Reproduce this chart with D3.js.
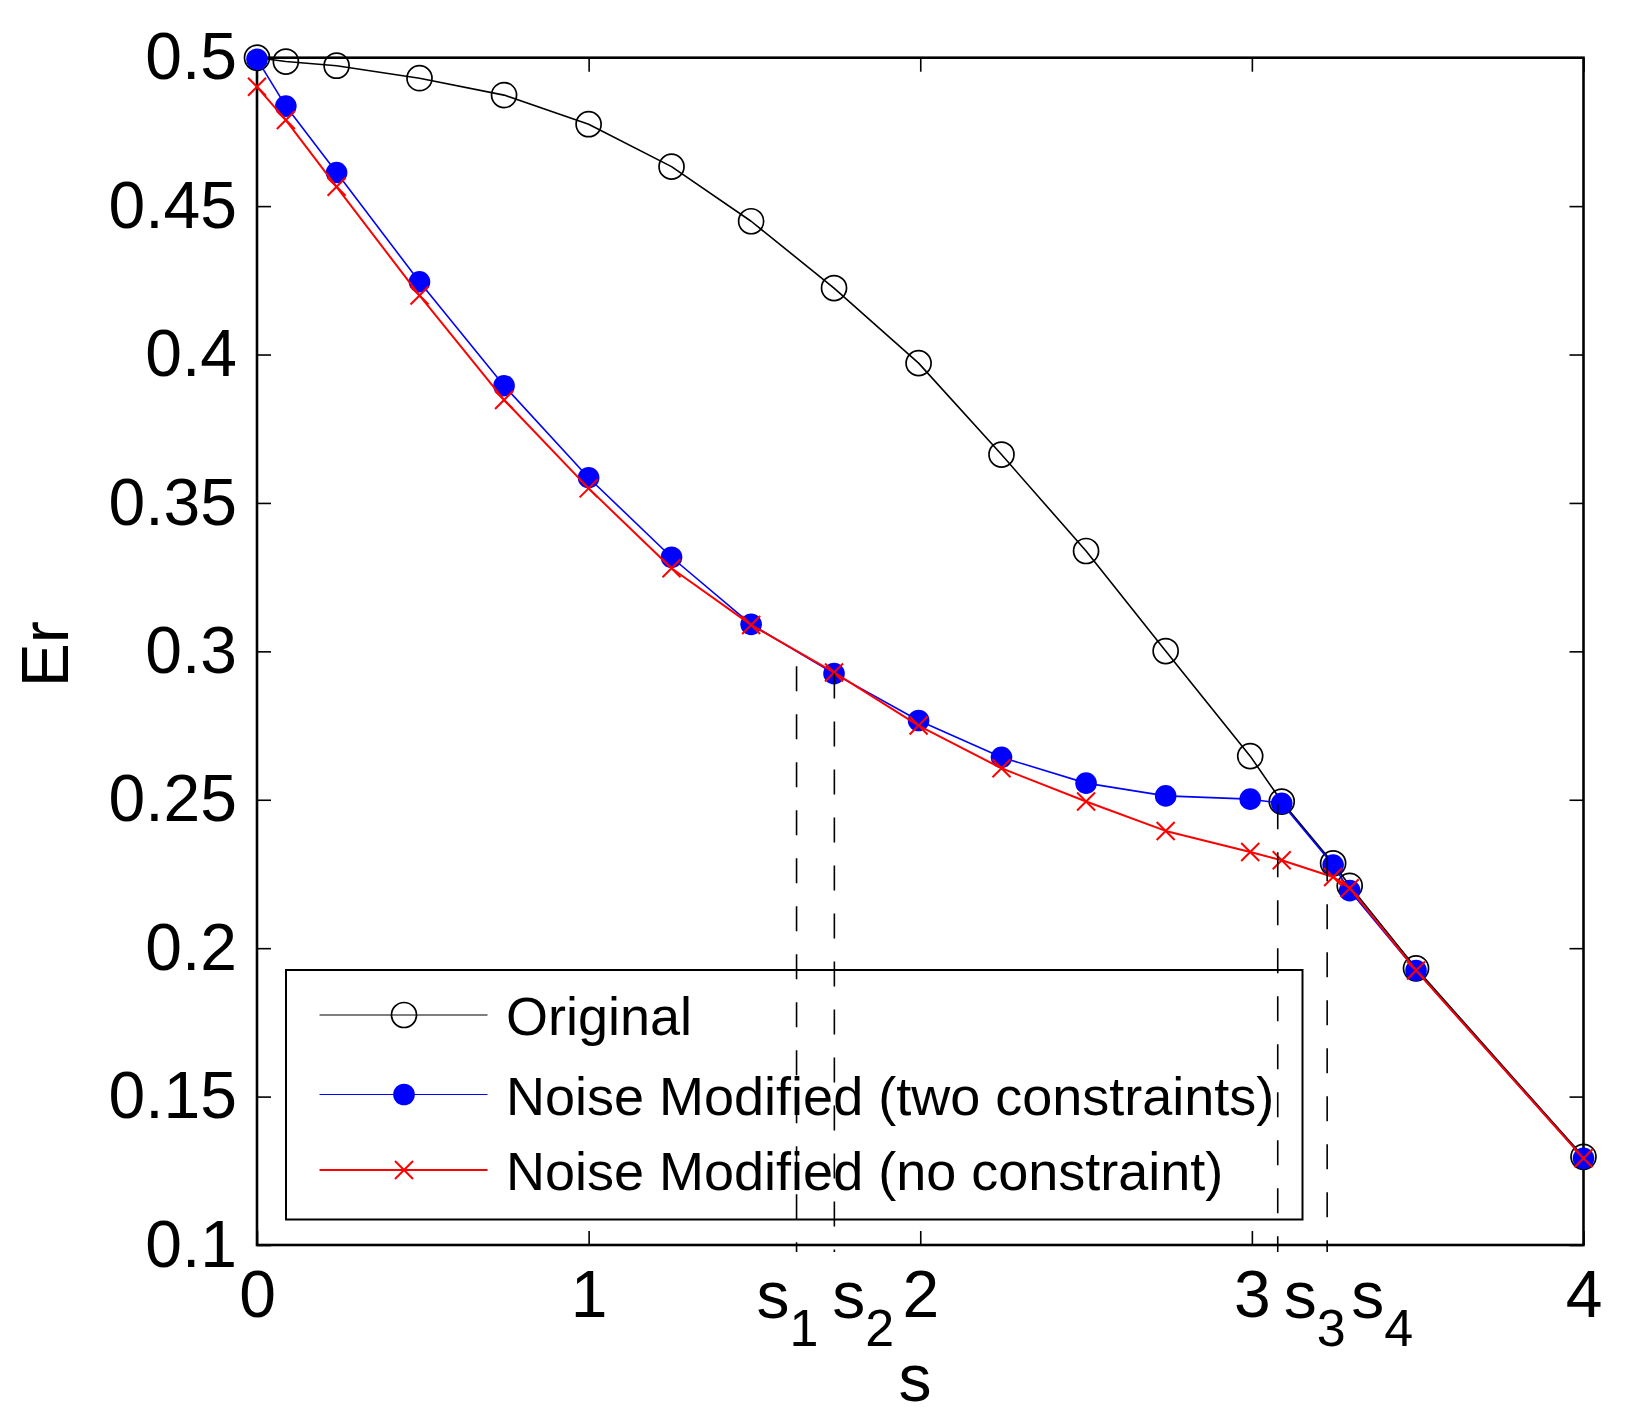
<!DOCTYPE html>
<html>
<head>
<meta charset="utf-8">
<script src="https://cdn.jsdelivr.net/npm/d3@7"></script>
<style>
  html, body { margin: 0; padding: 0; background: #fff; }
  svg { display: block; font-family: "Liberation Sans", Arial, sans-serif; }
</style>
</head>
<body>
<svg id="chart" width="1629" height="1416"></svg>
<script>
// ---------------- data ----------------
const sValues = [0, 0.087, 0.24, 0.49, 0.745, 1.0, 1.25, 1.49, 1.74, 1.995, 2.245, 2.5, 2.74, 2.995, 3.09, 3.245, 3.295, 3.495, 4.0];
const original = [0.5, 0.4987, 0.4973, 0.4931, 0.4874, 0.4776, 0.4633, 0.4449, 0.4224, 0.3971, 0.3663, 0.3338, 0.3001, 0.2647, 0.2494, 0.2286, 0.2210, 0.1932, 0.1297];
const twoConstraints = [0.4995, 0.4837, 0.4613, 0.4245, 0.3895, 0.3585, 0.3317, 0.3091, 0.2925, 0.2767, 0.2643, 0.2556, 0.2513, 0.2502, 0.2488, 0.2280, 0.2194, 0.1925, 0.1292];
const noConstraint = [0.4902, 0.4790, 0.4565, 0.4199, 0.3847, 0.3549, 0.3280, 0.3089, 0.2929, 0.2750, 0.2606, 0.2494, 0.2395, 0.2324, 0.2296, 0.2240, 0.2202, 0.1925, 0.1292];
const seriesNames = ["Original", "Noise Modified (two constraints)", "Noise Modified (no constraint)"];
const xTicks = [0, 1, 2, 3, 4];
const xTickLabels = ["0", "1", "2", "3", "4"];
const yTicks = [0.1, 0.15, 0.2, 0.25, 0.3, 0.35, 0.4, 0.45, 0.5];
const yTickLabels = ["0.1", "0.15", "0.2", "0.25", "0.3", "0.35", "0.4", "0.45", "0.5"];
const markS = [1.627, 1.741, 3.078, 3.227];
const markTop = [0.295, 0.2925, 0.2485, 0.231];
const markSubs = ["1", "2", "3", "4"];
const xLabel = "s";
const yLabel = "Er";

// ---------------- layout ----------------
const L = 257, R = 1583.5, T = 57.7, B = 1245;
const markLabelOffset = [-40, -2, 6, 24];   // px offsets of s_i labels from their lines
const svg = d3.select("#chart");
const x = d3.scaleLinear().domain([0, 4]).range([L, R]);
const y = d3.scaleLinear().domain([0.1, 0.5]).range([B, T]);
const FONT = 66;

// axes (ticks inside, all four sides)
const tickLen = 14;
const fmtX = d => xTickLabels[xTicks.indexOf(d)];
const fmtY = d => yTickLabels[yTicks.indexOf(d)];

const gB = svg.append("g").attr("transform", `translate(0,${B})`)
  .call(d3.axisBottom(x).tickValues(xTicks).tickFormat(fmtX).tickSizeInner(-tickLen).tickSizeOuter(0).tickPadding(25));
const gT = svg.append("g").attr("transform", `translate(0,${T})`)
  .call(d3.axisTop(x).tickValues(xTicks).tickFormat("").tickSizeInner(-tickLen).tickSizeOuter(0));
const gL = svg.append("g").attr("transform", `translate(${L},0)`)
  .call(d3.axisLeft(y).tickValues(yTicks).tickFormat(fmtY).tickSizeInner(-tickLen).tickSizeOuter(0).tickPadding(20));
const gR = svg.append("g").attr("transform", `translate(${R},0)`)
  .call(d3.axisRight(y).tickValues(yTicks).tickFormat("").tickSizeInner(-tickLen).tickSizeOuter(0));
[gB, gT, gL, gR].forEach(g => {
  g.select(".domain").remove();
  g.selectAll(".tick line").attr("stroke", "#000").attr("stroke-width", 1.6);
  g.selectAll("text").attr("fill", "#000").style("font-size", FONT + "px")
    .style("font-family", '"Liberation Sans", Arial, sans-serif');
});

// axes box
svg.append("rect").attr("x", L).attr("y", T).attr("width", R - L).attr("height", B - T)
  .attr("fill", "none").attr("stroke", "#000").attr("stroke-width", 2.6);

// axis labels
svg.append("text").attr("x", 915).attr("y", 1401).attr("text-anchor", "middle")
  .style("font-size", FONT + "px").text(xLabel);
svg.append("text").attr("transform", `translate(68,${(T + B) / 2 + 3}) rotate(-90)`)
  .attr("text-anchor", "middle").style("font-size", FONT + "px").text(yLabel);

// series
const pts = vals => sValues.map((s, i) => [s, vals[i]]);
const line = d3.line().x(d => x(d[0])).y(d => y(d[1]));

const styles = [
  { vals: original, color: "#000", width: 1.6, marker: "open" },
  { vals: twoConstraints, color: "#0000ff", width: 1.6, marker: "dot" },
  { vals: noConstraint, color: "#ff0000", width: 2.0, marker: "x" }
];

function drawMarker(g, kind, cx, cy, color) {
  if (kind === "open") {
    g.append("circle").attr("cx", cx).attr("cy", cy).attr("r", 12.5)
      .attr("fill", "none").attr("stroke", color).attr("stroke-width", 1.7);
  } else if (kind === "dot") {
    g.append("circle").attr("cx", cx).attr("cy", cy).attr("r", 10.8).attr("fill", color);
  } else {
    const h = 9;
    g.append("path").attr("d", `M${cx - h},${cy - h}L${cx + h},${cy + h}M${cx - h},${cy + h}L${cx + h},${cy - h}`)
      .attr("stroke", color).attr("stroke-width", 2).attr("fill", "none");
  }
}

styles.forEach(st => {
  const g = svg.append("g");
  g.append("path").attr("d", line(pts(st.vals))).attr("fill", "none")
    .attr("stroke", st.color).attr("stroke-width", st.width).attr("stroke-linejoin", "round");
  pts(st.vals).forEach(p => drawMarker(g, st.marker, x(p[0]), y(p[1]), st.color));
});

// dashed s_i markers
markS.forEach((s, i) => {
  svg.append("line").attr("x1", x(s)).attr("x2", x(s))
    .attr("y1", y(markTop[i])).attr("y2", B + 7)
    .attr("stroke", "#000").attr("stroke-width", 1.6).attr("stroke-dasharray", "25,23");
  const t = svg.append("text").attr("x", x(s) + markLabelOffset[i]).attr("y", 1318)
    .style("font-size", FONT + "px");
  t.append("tspan").text("s");
  t.append("tspan").attr("dy", 28).style("font-size", "52px").text(markSubs[i]);
});

// legend
const lg = svg.append("g");
lg.append("rect").attr("x", 286).attr("y", 970).attr("width", 1302.5 - 286).attr("height", 1219.5 - 970)
  .attr("fill", "none").attr("stroke", "#000").attr("stroke-width", 2);
const rowY = [1015, 1094.5, 1170];
const legW = [1.2, 1.2, 2.2];
styles.forEach((st, i) => {
  lg.append("line").attr("x1", 319.5).attr("x2", 487.5).attr("y1", rowY[i]).attr("y2", rowY[i])
    .attr("stroke", st.color).attr("stroke-width", legW[i]);
  drawMarker(lg, st.marker, 404, rowY[i], st.color);
  lg.append("text").attr("x", 506).attr("y", rowY[i] + 20).style("font-size", "54px").text(seriesNames[i]);
});
</script>
</body>
</html>
